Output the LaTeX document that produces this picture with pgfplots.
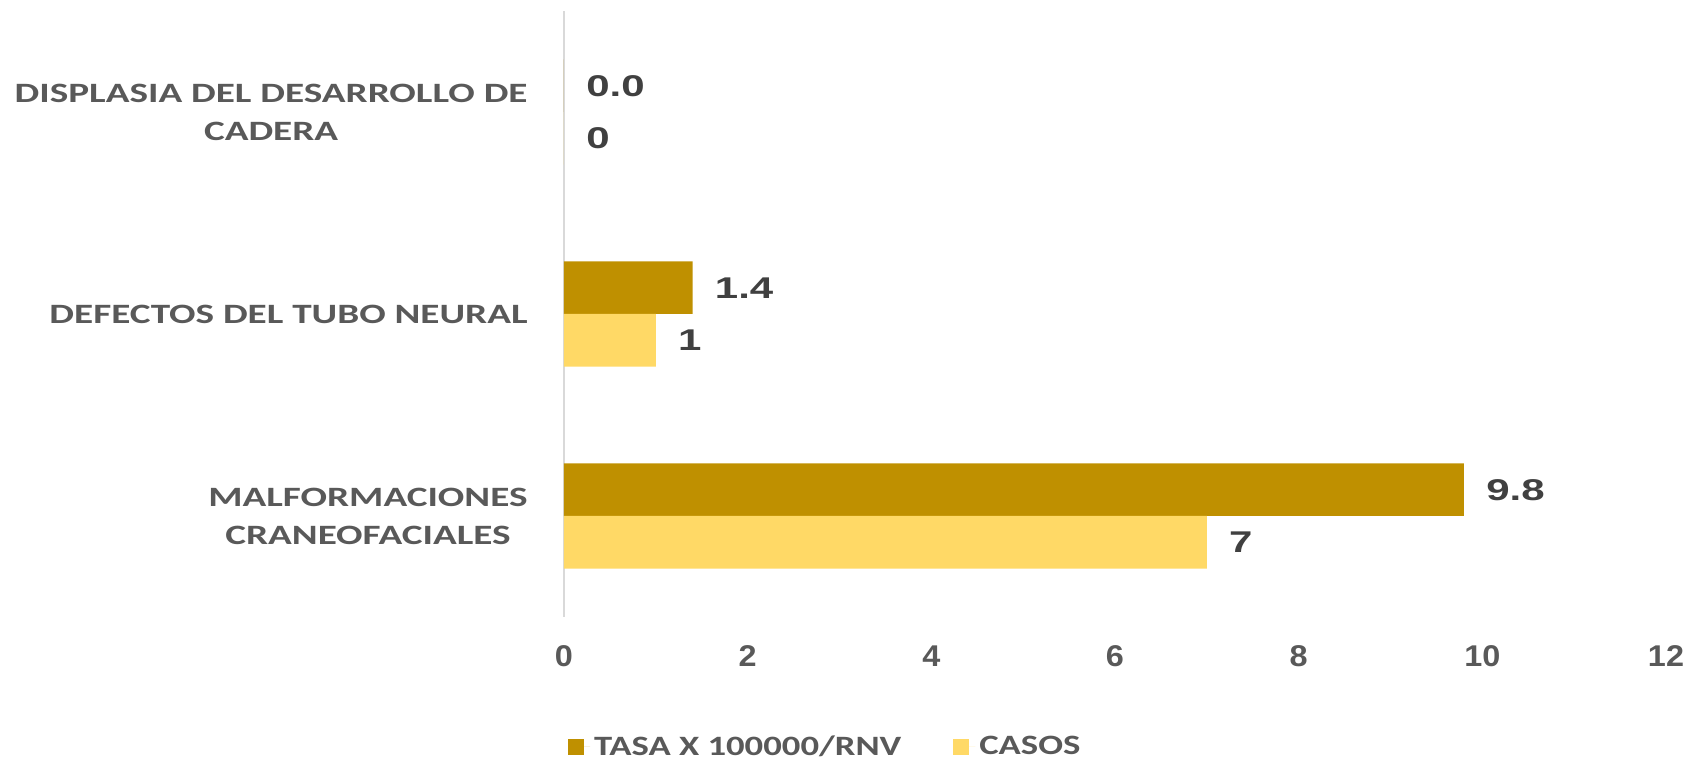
\documentclass[border=0pt]{standalone}
\usepackage{fontspec}
\setmainfont{Carlito}
\newfontfamily\catfont[FakeStretch=1.4]{Carlito}
\newfontfamily\legfont[FakeStretch=1.31]{Carlito}
\newfontfamily\numfont[FakeStretch=1.4]{Liberation Sans}
\newfontfamily\tickfont[FakeStretch=1.08]{Liberation Sans}
\usepackage{pgfplots}
\usepackage{xcolor}
\pgfplotsset{compat=1.18}
\definecolor{tasa}{HTML}{BF9000}
\definecolor{casos}{HTML}{FFD966}
\definecolor{txtgray}{HTML}{595959}
\definecolor{lblgray}{HTML}{404040}
\definecolor{axgray}{HTML}{D9D9D9}

\begin{document}
\begin{tikzpicture}
\useasboundingbox (-282pt,-73pt) rectangle (571pt,308.5pt);
\begin{axis}[
at={(0,0)},anchor=south west,
scale only axis,width=551pt,height=303pt,
xbar,bar width=0.26,
xmin=0,xmax=12,ymin=-0.5,ymax=2.5,
xtick={0,2,...,12},ytick={0,1,2},
yticklabels={{MALFORMACIONES\\CRANEOFACIALES},{DEFECTOS DEL TUBO NEURAL},{DISPLASIA DEL DESARROLLO DE\\CADERA}},
axis y line*=left,axis x line*=bottom,
x axis line style={draw=none},
y axis line style={draw=axgray,line width=1pt},
major tick length=0pt,
/pgf/number format/assume math mode=true,
xticklabel style={font=\tickfont\bfseries\fontsize{15}{18}\selectfont,text=txtgray,inner sep=0pt,anchor=north,yshift=-14pt},
yticklabel style={font=\catfont\bfseries\fontsize{14}{19}\selectfont,text=txtgray,align=center,inner sep=0pt,anchor=east,xshift=-18pt},
point meta=x,
nodes near coords style={font=\numfont\bfseries\fontsize{15}{18}\selectfont,text=lblgray,anchor=west,inner sep=0pt,xshift=11pt},
legend style={at={(0.238,-0.2145)},anchor=center,draw=none,
  font=\legfont\bfseries\fontsize{14}{17}\selectfont,text=txtgray,
  /tikz/every even column/.append style={column sep=24pt}},
legend columns=2,
legend image code/.code={\fill[#1] (0pt,-4pt) rectangle (8pt,4pt);\path (0pt,0pt) -- (11pt,0pt);},
]
\addplot[draw=none,fill=tasa,bar shift=0.13,
  nodes near coords={\pgfmathprintnumber[fixed,fixed zerofill,precision=1]{\pgfplotspointmeta}}]
  coordinates {(9.8,0) (1.4,1) (0,2)};
\addlegendentry{TASA X 100000/RNV}
\addplot[draw=none,fill=casos,bar shift=-0.13,
  nodes near coords={\pgfmathprintnumber[fixed,precision=0]{\pgfplotspointmeta}}]
  coordinates {(7,0) (1,1) (0,2)};
\addlegendentry{CASOS}
\end{axis}
\end{tikzpicture}
\end{document}
